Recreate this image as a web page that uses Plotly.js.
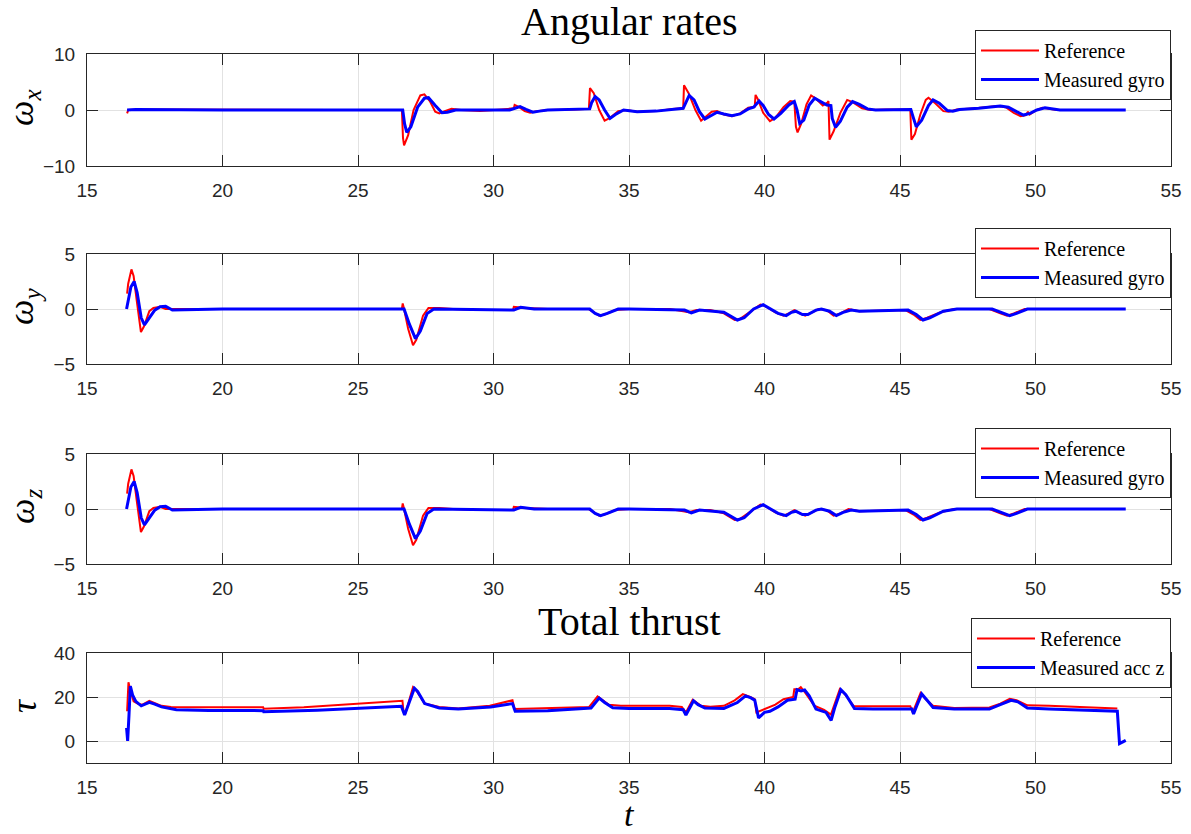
<!DOCTYPE html>
<html>
<head>
<meta charset="utf-8">
<script src="https://cdn.plot.ly/plotly-3.0.1.min.js"></script>
<style>
  html, body { margin: 0; padding: 0; background: #ffffff; }
  #chart { width: 1191px; height: 834px; }
</style>
</head>
<body>
<div id="chart"></div>
<script>
// ---- ω_x : roll rate ----
const wxRefT = [16.48,16.52,17.0,20.0,24.0,26.62,26.66,26.70,26.85,27.05,27.3,27.45,27.65,27.85,28.0,28.2,28.45,28.8,29.5,30.3,30.75,30.78,30.95,31.15,31.35,31.6,32.0,33.0,33.52,33.56,33.7,33.9,34.1,34.3,34.6,34.9,35.3,36.0,36.6,37.0,37.03,37.2,37.45,37.66,37.85,38.05,38.25,38.5,38.8,39.1,39.4,39.64,39.67,39.75,39.95,40.2,40.4,40.7,40.95,41.1,41.16,41.22,41.35,41.55,41.72,41.9,42.15,42.32,42.36,42.40,42.55,42.8,43.05,43.25,43.6,43.9,44.5,45.0,45.38,45.42,45.55,45.75,45.95,46.05,46.3,46.6,46.8,47.1,47.8,48.6,48.9,49.2,49.45,49.65,49.72,49.78,50.0,50.25,50.5,50.8,53.05];
const wxRefV = [-0.6,0.0,0.1,0.0,0.0,0.0,-5.0,-6.3,-4.5,0.0,2.6,2.8,1.6,-0.3,-0.6,-0.2,0.2,0.0,-0.2,0.1,0.3,0.9,0.5,-0.2,-0.5,-0.2,0.0,0.1,0.2,3.9,3.0,0.0,-1.9,-1.4,-0.2,0.0,-0.3,-0.2,0.2,0.3,4.4,3.0,0.0,-1.9,-1.2,-0.3,-0.2,-0.8,-1.1,-0.6,0.4,0.6,2.7,2.0,-0.5,-2.0,-1.4,0.5,1.6,1.5,-3.0,-4.0,-2.5,1.0,2.6,2.0,0.8,1.3,1.6,-5.3,-3.8,-0.5,1.8,1.4,0.3,0.0,0.1,0.1,0.1,-5.3,-4.3,-0.8,1.8,2.2,1.2,-0.2,-0.3,0.1,0.3,0.7,0.5,-0.5,-1.1,-0.9,-0.3,-0.8,-0.1,0.4,0.2,0.0,0.0];
const wxMeasT = [16.48,16.8,20.0,26.65,26.72,26.8,26.95,27.2,27.45,27.6,27.85,28.1,28.3,28.6,30.6,30.85,30.98,31.2,31.45,31.7,32.0,33.55,33.62,33.75,33.9,34.1,34.3,34.5,34.8,35.3,36.0,37.0,37.1,37.22,37.4,37.6,37.8,38.0,38.25,38.5,38.8,39.1,39.4,39.6,39.8,39.95,40.15,40.35,40.6,40.9,41.1,41.2,41.3,41.45,41.65,41.85,42.05,42.3,42.45,42.5,42.62,42.8,43.05,43.25,43.5,43.8,44.1,45.4,45.5,45.6,45.8,46.05,46.22,46.45,46.75,46.95,47.2,47.9,48.7,49.0,49.3,49.55,49.8,50.05,50.35,50.6,50.9,53.33];
const wxMeasV = [0.0,0.1,0.0,0.0,-2.5,-4.0,-3.0,0.5,2.1,2.2,0.8,-0.5,-0.4,0.0,0.0,0.4,0.6,0.1,-0.4,-0.2,0.0,0.2,1.3,2.4,1.8,0.0,-1.5,-0.8,0.0,-0.3,-0.2,0.3,1.5,2.6,1.8,-0.3,-1.6,-1.0,-0.4,-0.7,-1.0,-0.7,0.2,0.5,1.6,0.8,-0.8,-1.6,-0.6,0.9,1.5,0.0,-2.4,-1.8,0.9,2.1,1.6,0.9,0.8,-1.5,-3.1,-2.0,0.5,1.5,1.0,0.2,0.0,0.1,-1.5,-3.0,-1.8,0.8,1.8,1.2,-0.1,-0.2,0.1,0.3,0.7,0.5,-0.3,-0.9,-0.6,0.0,0.4,0.2,0.0,0.0];

// ---- ω_y : pitch rate ----
const wyRefT = [16.48,16.52,16.64,16.72,16.85,16.99,17.1,17.3,17.45,17.7,17.9,20.0,26.62,26.65,26.7,26.85,27.03,27.15,27.4,27.6,28.0,28.5,29.5,30.72,30.75,31.2,32.0,33.5,33.7,33.9,34.1,34.5,35.0,36.5,37.0,37.2,37.5,38.0,38.5,38.9,39.1,39.5,39.85,40.0,40.4,40.7,40.9,41.1,41.3,41.5,41.8,42.0,42.3,42.55,42.8,43.1,43.5,45.2,45.5,45.75,46.0,46.5,47.0,48.3,48.7,48.95,49.2,49.6,53.05];
const wyRefV = [1.4,2.3,3.6,3.0,0.5,-2.1,-1.6,-0.2,0.1,0.2,0.0,0.0,0.0,0.5,0.0,-1.8,-3.3,-2.8,-0.6,0.1,0.1,0.0,-0.1,-0.1,0.2,0.1,0.0,0.0,-0.3,-0.6,-0.5,-0.1,0.0,0.0,-0.2,-0.3,-0.1,-0.1,-0.4,-1.0,-0.9,-0.2,0.4,0.3,-0.3,-0.6,-0.4,-0.1,-0.4,-0.6,-0.2,0.0,-0.1,-0.6,-0.4,0.0,-0.2,-0.1,-0.5,-1.0,-0.8,-0.3,0.0,0.0,-0.4,-0.6,-0.4,0.0,0.0];
const wyMeasT = [16.46,16.52,16.62,16.74,16.85,17.0,17.12,17.3,17.5,17.7,17.9,18.15,20.0,26.7,26.9,27.12,27.3,27.55,27.8,30.75,31.0,31.5,33.55,33.75,33.95,34.2,34.6,35.0,37.05,37.3,37.6,38.5,39.0,39.25,39.6,39.95,40.1,40.5,40.8,41.0,41.15,41.4,41.6,41.9,42.1,42.4,42.65,42.9,43.2,43.5,45.3,45.6,45.85,46.1,46.6,47.1,48.4,48.8,49.05,49.3,49.7,53.33];
const wyMeasV = [0.0,0.8,2.0,2.5,1.5,-0.8,-1.45,-0.8,-0.1,0.2,0.25,-0.1,0.0,0.0,-1.4,-2.7,-2.0,-0.4,0.0,-0.1,0.15,0.0,0.0,-0.4,-0.6,-0.4,0.0,0.0,-0.1,-0.35,-0.1,-0.3,-1.0,-0.8,0.0,0.4,0.2,-0.4,-0.6,-0.3,-0.2,-0.5,-0.5,-0.1,0.0,-0.2,-0.6,-0.3,-0.1,-0.2,-0.1,-0.5,-1.0,-0.8,-0.2,0.0,0.0,-0.4,-0.6,-0.4,0.0,0.0];

// ---- ω_z : yaw rate (same logged values as ω_y) ----
const wzRefT = wyRefT.slice();
const wzRefV = wyRefV.slice();
const wzMeasT = wyMeasT.slice();
const wzMeasV = wyMeasV.slice();

// ---- τ : total thrust ----
const tauRefT = [16.48,16.53,16.62,16.72,16.9,17.05,17.3,17.5,17.75,18.1,19.0,21.5,21.52,23.0,25.0,26.64,26.68,26.75,26.9,27.03,27.15,27.46,28.0,28.7,29.86,30.7,30.78,32.0,33.53,33.84,34.0,34.26,34.7,36.5,36.95,37.1,37.35,37.5,37.66,38.0,38.5,38.9,39.2,39.45,39.64,39.70,39.85,40.14,40.4,40.7,41.06,41.1,41.25,41.34,41.5,41.84,42.2,42.45,42.6,42.78,42.95,43.3,44.0,45.38,45.47,45.6,45.76,45.95,46.22,47.0,48.3,48.7,49.05,49.3,49.7,50.5,53.02];
const tauRefV = [13.5,26.7,22.0,18.0,16.8,16.5,18.3,17.3,16.0,15.5,15.3,15.3,14.7,15.3,16.9,18.3,13.5,12.5,19.0,24.5,23.0,17.0,15.5,14.8,16.0,18.5,14.5,14.8,15.5,20.3,19.0,16.5,16.0,16.0,15.5,13.0,18.8,17.5,16.0,15.6,16.0,18.5,21.3,20.2,19.0,13.0,13.8,15.0,16.5,19.0,20.0,23.5,23.6,24.5,22.0,16.0,14.2,12.0,17.5,23.6,21.5,15.8,15.8,15.8,13.0,17.0,21.8,19.0,16.0,15.0,15.2,17.0,19.2,18.5,16.2,16.0,14.8];
const tauMeasT = [16.46,16.50,16.55,16.6,16.68,16.8,17.0,17.3,17.5,17.75,18.3,19.5,21.5,21.52,23.5,25.5,26.6,26.72,26.85,27.08,27.2,27.46,28.0,28.7,29.9,30.7,30.8,32.0,33.6,33.9,34.1,34.4,35.0,36.5,37.0,37.1,37.38,37.55,37.8,38.5,39.0,39.3,39.5,39.64,39.78,40.0,40.2,40.5,40.85,41.13,41.2,41.35,41.48,41.65,41.9,42.27,42.46,42.6,42.82,43.0,43.32,44.0,45.44,45.5,45.62,45.8,46.0,46.22,47.0,48.3,48.7,49.1,49.35,49.7,50.5,53.02,53.1,53.33];
const tauMeasV = [6.0,0.0,12.0,25.0,21.0,18.0,16.0,17.6,16.8,15.5,14.2,13.9,13.8,13.3,14.0,15.0,15.8,11.8,16.0,24.0,22.5,17.0,15.0,14.6,15.5,17.0,13.5,13.8,15.0,19.5,17.5,15.1,14.8,14.8,14.2,11.8,18.3,16.5,15.0,14.8,17.5,20.5,19.6,18.5,10.5,13.0,13.5,15.5,18.5,19.0,23.3,22.8,23.2,20.5,14.5,13.0,9.4,15.5,23.3,21.0,14.8,14.5,14.5,12.3,16.0,21.4,18.5,15.2,14.6,14.5,16.5,18.5,17.8,15.0,14.5,13.5,-1.2,0.3];

// ---- labels ----
const refName = 'Reference';
const gyroName = 'Measured gyro';
const accName = 'Measured acc z';
const panelTitles = ['Angular rates', 'Total thrust'];
const yLabels = ['<i>ω</i><sub><i>x</i></sub>', '<i>ω</i><sub><i>y</i></sub>', '<i>ω</i><sub><i>z</i></sub>', '<i>τ</i>'];
const xLabel = '<i>t</i>';
const xTicks = [15, 20, 25, 30, 35, 40, 45, 50, 55];

// ---- page geometry (pixels of the 1191 x 834 canvas) ----
const W = 1191, H = 834;
const xDom = [87 / W, 1171 / W];
const rows = [[54, 166], [254, 364], [454, 564], [653, 763]];
const yDom = rows.map(r => [1 - r[1] / H, 1 - r[0] / H]);
const legendTops = [30, 228, 428, 618];

const RED = '#ff0000', BLUE = '#0000ff';
const SERIF = 'Liberation Serif, Times New Roman, serif';
const SANS = 'Liberation Sans, Arial, Helvetica, sans-serif';

function pair(i, tR, vR, tM, vM, mName) {
  const sfx = i === 0 ? '' : String(i + 1);
  const lg = 'legend' + sfx;
  return [
    { x: tR, y: vR, type: 'scatter', mode: 'lines', name: refName,
      line: { color: RED, width: 2 }, xaxis: 'x' + sfx, yaxis: 'y' + sfx, legend: lg },
    { x: tM, y: vM, type: 'scatter', mode: 'lines', name: mName,
      line: { color: BLUE, width: 3 }, xaxis: 'x' + sfx, yaxis: 'y' + sfx, legend: lg }
  ];
}

const data = [].concat(
  pair(0, wxRefT, wxRefV, wxMeasT, wxMeasV, gyroName),
  pair(1, wyRefT, wyRefV, wyMeasT, wyMeasV, gyroName),
  pair(2, wzRefT, wzRefV, wzMeasT, wzMeasV, gyroName),
  pair(3, tauRefT, tauRefV, tauMeasT, tauMeasV, accName)
);

const axBase = {
  showline: true, linecolor: '#262626', linewidth: 1, mirror: 'ticks',
  ticks: 'inside', ticklen: 11, tickwidth: 1, tickcolor: '#262626',
  showgrid: true, gridcolor: '#e2e2e2', gridwidth: 1, zeroline: false,
  tickfont: { family: SANS, size: 19, color: '#262626' },
  ticklabelstandoff: 7, fixedrange: true
};

const yRanges = [[-10, 10], [-5, 5], [-5, 5], [-10, 40]];
const yTickVals = [[-10, 0, 10], [-5, 0, 5], [-5, 0, 5], [0, 20, 40]];

const layout = {
  width: W, height: H,
  margin: { l: 0, r: 0, t: 0, b: 0 },
  paper_bgcolor: '#ffffff', plot_bgcolor: '#ffffff',
  showlegend: true,
  annotations: [],
};

for (let i = 0; i < 4; i++) {
  const sfx = i === 0 ? '' : String(i + 1);
  layout['xaxis' + sfx] = Object.assign({}, axBase, {
    domain: xDom, range: [15, 55], tickmode: 'array', tickvals: xTicks,
    anchor: 'y' + sfx
  });
  layout['yaxis' + sfx] = Object.assign({}, axBase, {
    domain: yDom[i], range: yRanges[i], tickmode: 'array', tickvals: yTickVals[i],
    anchor: 'x' + sfx
  });
  layout['legend' + sfx] = {
    x: 1171 / W, xanchor: 'right', xref: 'paper',
    y: 1 - legendTops[i] / H, yanchor: 'top', yref: 'paper',
    bgcolor: '#ffffff', bordercolor: '#262626', borderwidth: 1,
    font: { family: SERIF, size: 20, color: '#000000' },
    tracegroupgap: 0, itemwidth: 58
  };
  layout.annotations.push({
    text: yLabels[i], textangle: -90, showarrow: false,
    xref: 'paper', yref: 'paper', x: 24 / W, xanchor: 'center',
    y: 1 - ((rows[i][0] + rows[i][1]) / 2 - 2) / H, yanchor: 'middle',
    font: { family: SERIF, size: 36, color: '#000000' }
  });
}

// panel titles and the shared time label
layout.annotations.push(
  { text: panelTitles[0], showarrow: false, xref: 'paper', yref: 'paper',
    x: (xDom[0] + xDom[1]) / 2, xanchor: 'center', y: 1 - 22 / H, yanchor: 'middle',
    font: { family: SERIF, size: 40, color: '#000000' } },
  { text: panelTitles[1], showarrow: false, xref: 'paper', yref: 'paper',
    x: (xDom[0] + xDom[1]) / 2, xanchor: 'center', y: 1 - 621 / H, yanchor: 'middle',
    font: { family: SERIF, size: 40, color: '#000000' } },
  { text: xLabel, showarrow: false, xref: 'paper', yref: 'paper',
    x: (xDom[0] + xDom[1]) / 2, xanchor: 'center', y: 1 - 814 / H, yanchor: 'middle',
    font: { family: SERIF, size: 34, color: '#000000' } }
);

Plotly.newPlot('chart', data, layout, { staticPlot: true, displayModeBar: false });
</script>
</body>
</html>
